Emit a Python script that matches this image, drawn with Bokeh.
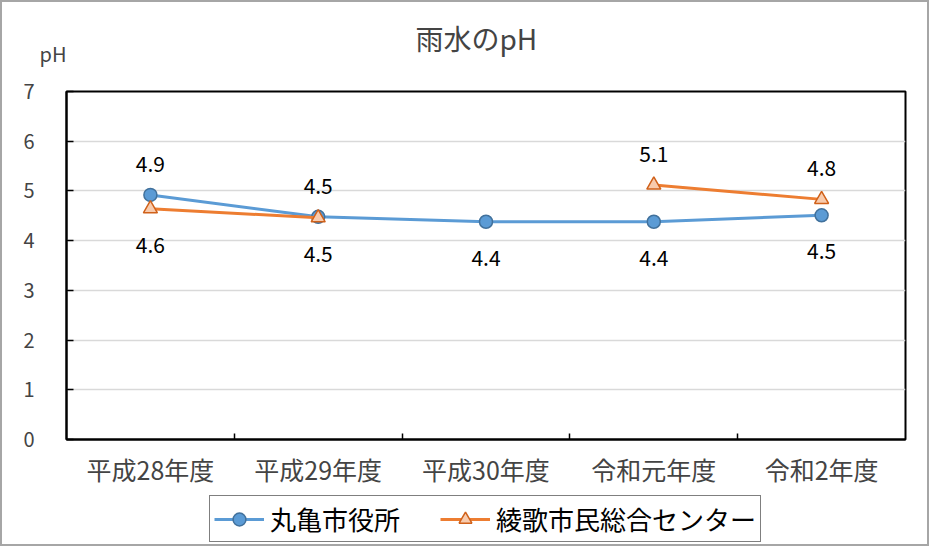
from bokeh.plotting import figure
from bokeh.layouts import column
from bokeh.models import FixedTicker, Legend, LegendItem, ColumnDataSource, Range1d, Title
from bokeh.embed import file_html
from bokeh.resources import INLINE
from bokeh.core.properties import value

categories = ["平成28年度", "平成29年度", "平成30年度", "令和元年度", "令和2年度"]
marugame = [4.92, 4.48, 4.38, 4.38, 4.51]
ayauta = [4.64, 4.46, float("nan"), 5.12, 4.83]
marugame_side = ["above", "above", "below", "below", "below"]
ayauta_side = ["below", "below", None, "above", "above"]
y_ticks = [0, 1, 2, 3, 4, 5, 6, 7]
series_names = ["丸亀市役所", "綾歌市民総合センター"]

FONT = "Noto Sans CJK JP"
BLUE, BLUE_EDGE = "#5B9BD5", "#41719C"
ORANGE, ORANGE_FILL, ORANGE_EDGE = "#ED7D31", "#F8CBAD", "#D0611A"
xs = list(range(len(categories)))

p = figure(width=925, height=487, output_backend="svg", toolbar_location=None,
           x_range=Range1d(-0.5, len(categories) - 0.5), y_range=Range1d(0, 7),
           min_border_left=64, min_border_right=22, min_border_top=89, min_border_bottom=50)

# "pH" unit label (closest to the frame), then the main title further out
p.add_layout(Title(text="pH", align="left", offset=-27, standoff=47,
                   text_font=FONT, text_font_size="20px", text_font_style="normal"), "above")

p.title.text = "雨水のpH"
p.title.text_font = FONT
p.title.text_font_size = "28px"
p.title.text_font_style = "normal"
p.title.align = "left"
p.title.offset = 349
p.title.standoff = -89

p.outline_line_color = "black"
p.outline_line_width = 2

# y axis
p.yaxis.ticker = FixedTicker(ticks=y_ticks)
p.yaxis.major_label_text_font = FONT
p.yaxis.major_label_text_font_size = "20px"
p.yaxis.major_tick_in = 7
p.yaxis.major_tick_out = 0
p.yaxis.minor_tick_line_color = None
p.yaxis.major_label_standoff = 32
p.yaxis.axis_line_width = 2
p.yaxis.axis_line_color = "black"
p.yaxis.major_tick_line_width = 1.5

# x axis
p.xaxis.ticker = FixedTicker(ticks=xs, minor_ticks=[i + 0.5 for i in xs[:-1]])
p.xaxis.major_label_overrides = {i: c for i, c in enumerate(categories)}
p.xaxis.major_label_text_font = FONT
p.xaxis.major_label_text_font_size = "25px"
p.xaxis.major_tick_line_color = None
p.xaxis.minor_tick_in = 6
p.xaxis.minor_tick_out = 0
p.xaxis.minor_tick_line_width = 1.5
p.xaxis.minor_tick_line_color = "black"
p.xaxis.major_label_standoff = 5
p.xaxis.axis_line_width = 2
p.xaxis.axis_line_color = "black"

p.xgrid.grid_line_color = None
p.ygrid.ticker = FixedTicker(ticks=y_ticks[1:-1])
p.ygrid.grid_line_color = "#d9d9d9"
p.ygrid.grid_line_width = 1.5

src_m = ColumnDataSource(dict(x=xs, y=marugame))
src_a = ColumnDataSource(dict(x=xs, y=ayauta))

line_kw = [dict(line_color=BLUE, line_width=3), dict(line_color=ORANGE, line_width=3)]
mark_kw = [dict(marker="circle", size=13, fill_color=BLUE, line_color=BLUE_EDGE, line_width=1.5),
           dict(marker="triangle", size=14, fill_color=ORANGE_FILL, line_color=ORANGE_EDGE,
                line_width=1.5)]

for src, lk, mk in zip((src_m, src_a), line_kw, mark_kw):
    p.line("x", "y", source=src, **lk)
    p.scatter("x", "y", source=src, **mk)


def add_labels(vals, sides):
    for side, off in (("above", -31), ("below", 36)):
        sx = [x for x, v, s in zip(xs, vals, sides) if s == side]
        sy = [v for x, v, s in zip(xs, vals, sides) if s == side]
        st = [f"{v:.1f}" for v in sy]
        p.text(x=sx, y=sy, text=st, text_align="center", text_baseline="middle",
               y_offset=off, text_font=value(FONT), text_font_size="21px",
               text_color="black")


add_labels(marugame, marugame_side)
add_labels(ayauta, ayauta_side)

# legend strip below the chart (its renderers share the series data; the
# strip's view range lies away from the data so only the legend box shows)
lg = figure(width=925, height=55, output_backend="svg", toolbar_location=None,
            x_range=Range1d(100, 101), y_range=Range1d(100, 101),
            x_axis_type=None, y_axis_type=None, min_border=0,
            outline_line_color=None)
lg.grid.visible = False
items = []
for name, src, lk, mk in zip(series_names, (src_m, src_a), line_kw, mark_kw):
    r_line = lg.line("x", "y", source=src, **lk)
    r_mark = lg.scatter("x", "y", source=src, **mk)
    items.append(LegendItem(label=name, renderers=[r_line, r_mark]))

legend = Legend(items=items, orientation="horizontal", location=(143, 2))
legend.label_text_font = FONT
legend.label_text_font_size = "26px"
legend.label_text_color = "black"
legend.glyph_width = 50
legend.glyph_height = 32
legend.label_standoff = 6
legend.spacing = 40
legend.padding = 4
legend.margin = 0
legend.border_line_color = "black"
legend.border_line_width = 1.5
lg.add_layout(legend, "center")

layout = column(p, lg, spacing=0, styles={"border": "2px solid #a6a6a6"})

open("out.html", "w").write(file_html(layout, INLINE))
